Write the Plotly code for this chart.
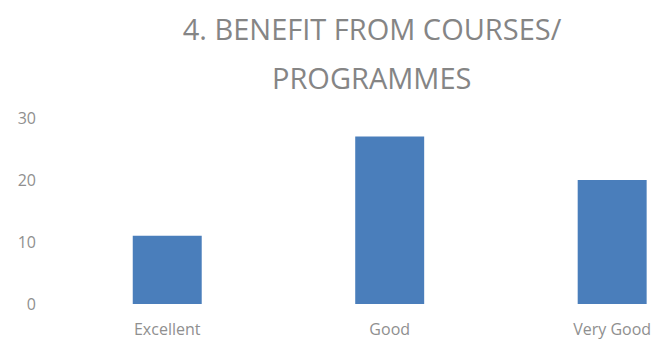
import plotly.graph_objects as go

# Survey answers and how many picked each one
categories = ['Excellent', 'Good', 'Very Good']
counts = [11, 27, 20]
y_ticks = [0, 10, 20, 30]

bar_color = '#4a7ebb'
text_color = '#8f8f8f'
font_family = 'Open Sans, Lato, sans-serif'

# the page puts the figure 8px in from the top-left corner, so the figure
# is 8px smaller each way to fill the window exactly
W, H = 652, 336

fig = go.Figure(go.Bar(
    x=categories,
    y=counts,
    width=0.31,
    marker=dict(color=bar_color, line=dict(width=0)),
))

fig.update_layout(
    width=W,
    height=H,
    margin=dict(l=48, r=0, t=110, b=40),
    paper_bgcolor='white',
    plot_bgcolor='white',
    showlegend=False,
    font=dict(family=font_family, color=text_color),
    title=dict(
        text='4. BENEFIT FROM COURSES/',
        x=364 / W, xanchor='center',
        y=1 - 22 / H, yanchor='middle',
        font=dict(size=29, color='#858585', family=font_family),
    ),
    xaxis=dict(
        range=[-0.5, 2.215],
        showgrid=False,
        zeroline=False,
        showline=False,
        ticks='',
        tickfont=dict(size=16),
        ticklabelstandoff=14,
    ),
    yaxis=dict(
        range=[0, 30],
        tickvals=y_ticks,
        showgrid=False,
        zeroline=False,
        showline=False,
        ticks='',
        tickfont=dict(size=16),
        ticklabelstandoff=19,
    ),
)

# second line of the title sits well below the first one
fig.add_annotation(
    text='PROGRAMMES',
    xref='paper', yref='paper',
    x=(363 - 48) / 604, y=(296 - 69) / 186,
    xanchor='center', yanchor='middle',
    showarrow=False,
    font=dict(size=29, color='#858585', family=font_family),
)

fig.write_html('out.html')
